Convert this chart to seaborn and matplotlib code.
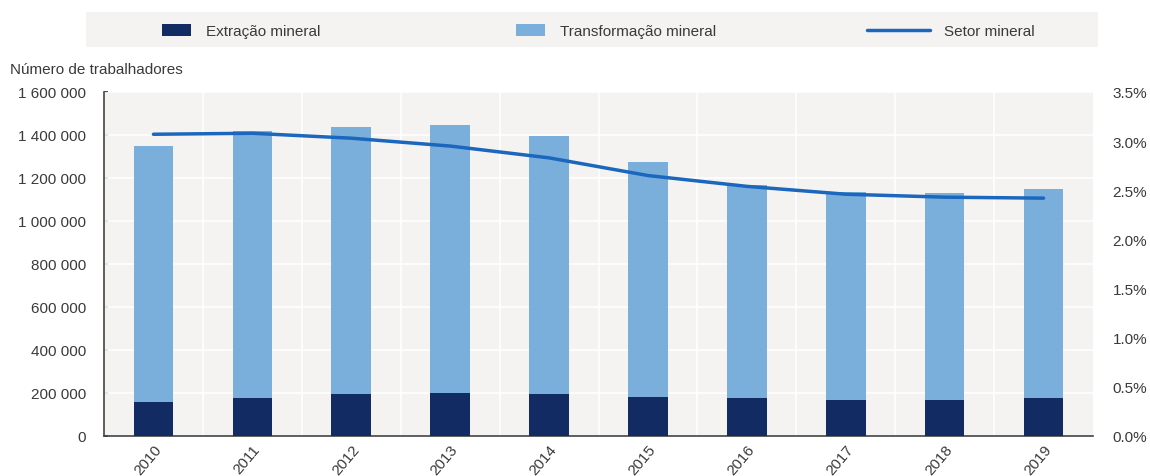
import matplotlib
matplotlib.use("Agg")
import matplotlib.pyplot as plt
import seaborn as sns
import pandas as pd
from matplotlib.patches import Patch, Rectangle
from matplotlib.lines import Line2D
from matplotlib.ticker import FuncFormatter, FixedLocator

years = ["2010", "2011", "2012", "2013", "2014", "2015", "2016", "2017", "2018", "2019"]
extracao = [158000, 177000, 195000, 198000, 195000, 181000, 177000, 167000, 167000, 177000]
transformacao = [1191000, 1242000, 1242000, 1249000, 1200000, 1093000, 990000, 968000, 963000, 972000]
setor_pct = [3.07, 3.08, 3.03, 2.95, 2.83, 2.65, 2.54, 2.46, 2.43, 2.42]
legend_labels = ["Extração mineral", "Transformação mineral", "Setor mineral"]

C_DARK = "#132b63"
C_LIGHT = "#7aafdc"
C_LINE = "#1b67bd"
BG = "#f4f3f1"
TXT = "#3a3a3a"

sns.set_theme(style="white")
plt.rcParams["font.family"] = ["Liberation Sans", "DejaVu Sans"]
plt.rcParams["text.color"] = TXT
plt.rcParams["xtick.color"] = TXT
plt.rcParams["ytick.color"] = TXT

df = pd.DataFrame({
    "ano": years,
    "extracao": extracao,
    "transformacao": transformacao,
})
df["total"] = df["extracao"] + df["transformacao"]
df["pos"] = range(len(years))
df["setor"] = setor_pct

W, H = 1150, 477
fig = plt.figure(figsize=(11.5, 4.77), dpi=100)
ax = fig.add_axes([104/W, 1-437/H, (1093-104)/W, (437-93)/H])
ax.set_facecolor(BG)

sns.barplot(data=df, x="ano", y="total", color=C_LIGHT, width=0.4, saturation=1,
            ax=ax, zorder=2, edgecolor="none", linewidth=0)
sns.barplot(data=df, x="ano", y="extracao", color=C_DARK, width=0.4, saturation=1,
            ax=ax, zorder=3, edgecolor="none", linewidth=0)

ax.set_xlim(-0.5, 9.5)
ax.set_ylim(0, 1600000)
ax.set_yticks(range(0, 1600001, 200000))
ax.yaxis.set_major_formatter(FuncFormatter(lambda v, p: f"{int(v):,}".replace(",", " ")))
ax.set_xlabel("")
ax.set_ylabel("")
ax.xaxis.set_minor_locator(FixedLocator([i + 0.5 for i in range(-1, 10)]))
ax.grid(False)
for y in range(200000, 1600001, 200000):
    ax.axhline(y, color="white", lw=1.2, zorder=1)
for x in [i + 0.5 for i in range(0, 9)]:
    ax.axvline(x, color="white", lw=1.2, zorder=1)

for s in ["top", "right"]:
    ax.spines[s].set_visible(False)
for s in ["left", "bottom"]:
    ax.spines[s].set_color("#444444")
    ax.spines[s].set_linewidth(1.2)

ax.tick_params(axis="y", which="major", direction="in", length=3, labelsize=11, pad=13, colors=TXT)
ax.tick_params(axis="x", which="major", length=0, labelsize=11, pad=4)
ax.tick_params(axis="x", which="minor", direction="in", length=3, color="#444444")
for lab in ax.get_xticklabels():
    lab.set_rotation(50)
    lab.set_ha("right")
    lab.set_rotation_mode("anchor")

ax2 = ax.twinx()
sns.lineplot(data=df, x="pos", y="setor", color=C_LINE, lw=2.5, ax=ax2, zorder=4)
ax2.set_ylim(0, 3.5)
ax2.set_yticks([i * 0.5 for i in range(8)])
ax2.yaxis.set_major_formatter(FuncFormatter(lambda v, p: f"{v:.1f}%"))
ax2.set_ylabel("")
ax2.set_xlabel("")
ax2.grid(False)
for s in ["top", "right", "left", "bottom"]:
    ax2.spines[s].set_visible(False)
ax2.tick_params(axis="y", length=0, labelsize=11, pad=14, colors=TXT)
ax.set_xlim(-0.5, 9.5)

fig.text(10/W, 1-70/H, "Número de trabalhadores", fontsize=11, color=TXT, va="center", ha="left")

# legend background
fig.patches.append(Rectangle((86/W, 1-48/H), (1098-86)/W, 35/H, transform=fig.transFigure,
                             facecolor=BG, edgecolor="none", zorder=0))

handles = [
    Patch(facecolor=C_DARK, edgecolor="none"),
    Patch(facecolor=C_LIGHT, edgecolor="none"),
    Line2D([0], [0], color=C_LINE, lw=2.5),
]
starts = [162, 516, 867]
hlens = [1.9, 1.9, 4.1]
for h, lab, x0, hl in zip(handles, legend_labels, starts, hlens):
    fig.legend([h], [lab], loc="center left", bbox_to_anchor=(x0/W, 1-32/H),
               frameon=False, fontsize=11, handlelength=hl, handleheight=0.85,
               handletextpad=0.95, borderpad=0, borderaxespad=0)

fig.savefig("out.png", dpi=100, facecolor="white")
